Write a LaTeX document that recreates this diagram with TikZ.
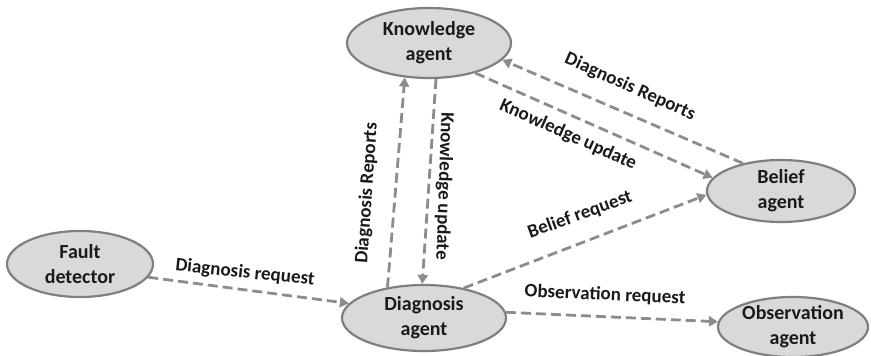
\documentclass[tikz,border=0pt]{standalone}
\usepackage{fontspec}
\setmainfont{Carlito}
\usetikzlibrary{shapes.geometric,arrows.meta}
\definecolor{efill}{HTML}{D9D9D9}
\definecolor{eline}{HTML}{7F7F7F}
\definecolor{aline}{HTML}{8C8C8C}
\definecolor{tcol}{HTML}{1A1A1A}
\tikzset{
  agent/.style={ellipse, draw=eline, fill=efill, line width=2.2pt, inner sep=0pt,
    align=center, text=tcol, font=\bfseries\fontsize{20}{25}\selectfont},
  flow/.style={draw=aline, line width=2.8pt, dash pattern=on 10pt off 5pt,
    -{Triangle[length=9pt,width=10pt]}},
  lbl/.style={text=tcol, inner sep=0pt, font=\bfseries\fontsize{19}{23}\selectfont}
}
\begin{document}
\begin{tikzpicture}[x=1pt,y=-1pt]
\useasboundingbox (0,0) rectangle (871,356);
\node[agent, minimum width=164pt, minimum height=70pt] (k) at (429,43) {Knowledge\\agent};
\node[agent, minimum width=146pt, minimum height=66pt] (f) at (80,264) {Fault\\detector};
\node[agent, minimum width=164pt, minimum height=66pt] (d) at (424,318) {Diagnosis\\agent};
\node[agent, minimum width=148pt, minimum height=62pt] (b) at (781,191) {Belief\\agent};
\node[agent, minimum width=150pt, minimum height=60pt] (o) at (793,327) {Observation\\agent};

\draw[flow] (f.-11) -- (d.169);
\draw[flow] (d.140) -- (k.-125);
\draw[flow] (k.-79) -- (d.93);
\draw[flow] (b.144) -- (k.-13);
\draw[flow] (k.-33) -- (b.169);
\draw[flow] (d.37) -- (b.-177);
\draw[flow] (d.4) -- (o.176);

\node[lbl, rotate=-6] (l1) at (245,273) {Diagnosis request};
\node[lbl, rotate=86] (l2) at (367,193) {Diagnosis Reports};
\node[lbl, rotate=-92] (l3) at (444,186) {Knowledge update};
\node[lbl, rotate=-24] (l4) at (630,87) {Diagnosis Reports};
\node[lbl, rotate=-24] (l5) at (568,135) {Knowledge update};
\node[lbl, rotate=20] (l6) at (580,215) {Belief request};
\node[lbl, rotate=-2.5] (l7) at (605,295) {Observation request};
\end{tikzpicture}
\end{document}
